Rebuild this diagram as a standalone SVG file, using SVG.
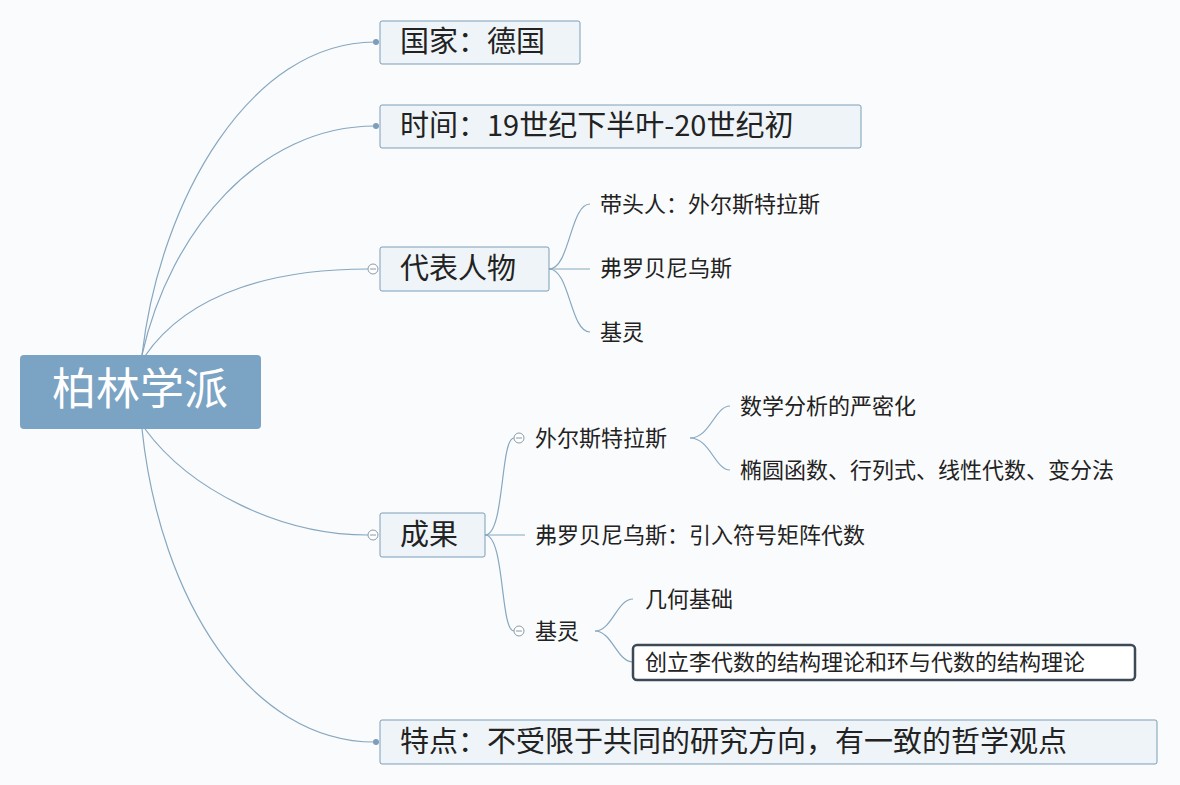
<svg xmlns="http://www.w3.org/2000/svg" width="1180" height="785" viewBox="0 0 1180 785">
<style>
text{font-family:"Noto Sans CJK SC","Liberation Sans",sans-serif;fill:#222}
.b{fill:#eef4f8;stroke:#7d9db8;stroke-width:1}
.m{font-size:29px}
.s{font-size:22px}
.c path{fill:none;stroke:#86a7c0;stroke-width:1.2}
.col{fill:#fff;stroke:#8a9aa8;stroke-width:1}
.dot{fill:#7d9db8}
</style>
<rect width="1180" height="785" fill="#fafbfc"/>
<g class="c">
<path d="M142,355 C160,200 250,42 375,42"/>
<path d="M142,355 C170,230 260,126 375,126"/>
<path d="M145,356 C190,290 280,269 368,269"/>
<path d="M145,429 C190,490 280,535 368,535"/>
<path d="M142,429 C160,600 250,742 375,742"/>
<path d="M549,269 C570,269 570,204 590,204"/>
<path d="M549,269 L590,269"/>
<path d="M549,269 C570,269 570,332 590,332"/>
<path d="M485,535 C505,535 500,438 514,438"/>
<path d="M485,535 L525,535"/>
<path d="M485,535 C505,535 500,631 514,631"/>
<path d="M690,438 C710,438 715,406 730,406"/>
<path d="M690,438 C710,438 715,470 730,470"/>
<path d="M595,631 C612,631 617,599 633,599"/>
<path d="M595,631 C612,631 617,662 633,662"/>
</g>
<g id="root"><rect x="20" y="355" width="241" height="74" rx="4" fill="#7ba3c3"/><text x="140" y="405" font-size="44" text-anchor="middle" style="fill:#fff">柏林学派</text></g>
<g id="n1"><circle class="dot" cx="376" cy="42" r="3"/><rect class="b" x="380" y="21" width="200" height="43" rx="2"/><text class="m" x="400" y="52">国家：德国</text></g>
<g id="n2"><circle class="dot" cx="376" cy="126" r="3"/><rect class="b" x="380" y="105" width="481" height="43" rx="2"/><text class="m" x="400" y="136">时间：19世纪下半叶-20世纪初</text></g>
<g id="n3"><circle class="col" cx="373" cy="269" r="5"/><path d="M370,269h6" stroke="#8a9aa8"/><rect class="b" x="380" y="247" width="169" height="44" rx="2"/><text class="m" x="400" y="279">代表人物</text></g>
<g id="n3a"><text class="s" x="600" y="212">带头人：外尔斯特拉斯</text></g>
<g id="n3b"><text class="s" x="600" y="276">弗罗贝尼乌斯</text></g>
<g id="n3c"><text class="s" x="600" y="340">基灵</text></g>
<g id="n4"><circle class="col" cx="373" cy="535" r="5"/><path d="M370,535h6" stroke="#8a9aa8"/><rect class="b" x="380" y="513" width="105" height="44" rx="2"/><text class="m" x="400" y="545">成果</text></g>
<g id="n4a"><circle class="col" cx="519" cy="438" r="5"/><path d="M516,438h6" stroke="#8a9aa8"/><text class="s" x="535" y="446">外尔斯特拉斯</text></g>
<g id="n4a1"><text class="s" x="740" y="414">数学分析的严密化</text></g>
<g id="n4a2"><text class="s" x="740" y="478">椭圆函数、行列式、线性代数、变分法</text></g>
<g id="n4b"><text class="s" x="535" y="543">弗罗贝尼乌斯：引入符号矩阵代数</text></g>
<g id="n4c"><circle class="col" cx="519" cy="631" r="5"/><path d="M516,631h6" stroke="#8a9aa8"/><text class="s" x="535" y="639">基灵</text></g>
<g id="n4c1"><text class="s" x="645" y="607">几何基础</text></g>
<g id="n4c2"><rect x="633" y="645" width="502" height="35" rx="4" fill="#fff" stroke="#3c4a57" stroke-width="2.5"/><text class="s" x="645" y="670">创立李代数的结构理论和环与代数的结构理论</text></g>
<g id="n5"><circle class="dot" cx="376" cy="742" r="3"/><rect class="b" x="380" y="720" width="777" height="44" rx="2"/><text class="m" x="400" y="752">特点：不受限于共同的研究方向，有一致的哲学观点</text></g>
</svg>
